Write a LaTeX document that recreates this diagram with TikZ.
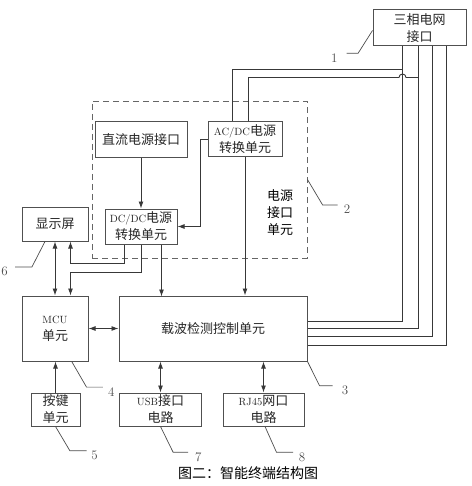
\documentclass[tikz,border=0pt]{standalone}
\usepackage{fontspec}
\usepackage{tikz}
\usetikzlibrary{arrows.meta,calc,positioning}
\newfontfamily\cjkfont{Noto Sans CJK SC}
\definecolor{boxgray}{HTML}{505050}
\definecolor{wiregray}{HTML}{383838}
\newcommand{\lat}{\fontsize{10.5}{17}\rmfamily}

\begin{document}
\begin{tikzpicture}[
  x=1pt, y=-1pt,
  blk/.style    = {draw=boxgray, line width=1pt, align=center,
                   font=\cjkfont\fontsize{13}{17}\selectfont,
                   inner sep=1pt, text=black!85},
  wire/.style   = {line width=0.9pt, draw=wiregray},
  arr/.style    = {wire, -{Latex[length=7pt,width=5pt]}},
  dbl/.style    = {wire, {Latex[length=7pt,width=5pt]}-{Latex[length=7pt,width=5pt]}},
  leader/.style = {line width=0.7pt, draw=black!70},
  num/.style    = {font=\fontsize{13}{15}\selectfont, inner sep=0pt, text=black!70},
]
\useasboundingbox (0,0) rectangle (471,486);

% power supply region
\node[draw=black!60, dashed, dash pattern=on 6pt off 4pt, line width=0.9pt,
      minimum width=215pt, minimum height=157pt] (psu) at (199.5,179.5) {};
\node[font=\cjkfont\fontsize{13}{17}\selectfont, align=center, inner sep=0pt]
    (psutext) at (280,213) {电源\\接口\\单元};

% blocks
\node[blk, minimum width=93pt, minimum height=36pt] (grid) at (419.5,28) {三相电网\\接口};
\node[blk, minimum width=74pt, minimum height=35pt] (acdc) at (245,139.5) {{\lat AC/DC}电源\\转换单元};
\node[blk, minimum width=92pt, minimum height=36pt] (dcin) at (141,140) {直流电源接口};
\node[blk, minimum width=72pt, minimum height=35pt] (dcdc) at (141,226.5) {{\lat DC/DC}电源\\转换单元};
\node[blk, minimum width=66pt, minimum height=34pt] (disp) at (55,224) {显示屏};
\node[blk, minimum width=66pt, minimum height=65pt] (mcu) at (55,328.5) {{\lat MCU}\\单元};
\node[blk, minimum width=188pt, minimum height=65pt] (carrier) at (213,328.5) {载波检测控制单元};
\node[blk, minimum width=49pt, minimum height=33pt] (key) at (55.5,409.5) {按键\\单元};
\node[blk, minimum width=82pt, minimum height=33pt] (usb) at (160.5,409.5) {{\lat USB}接口\\电路};
\node[blk, minimum width=81pt, minimum height=33pt] (rj45) at (263.5,409.5) {{\lat RJ45}网口\\电路};

% grid feeds
\draw[wire] ($(grid.south west)+(30,23)$) -| ($(acdc.north west)+(25,0)$);
\draw[wire] ($(grid.south west)+(46,31)$) -- ++(-12.5,0)
    arc[start angle=0, end angle=180, x radius=3.5pt, y radius=3.5pt]
    -| ($(acdc.north west)+(41,0)$);
\draw[wire] ($(grid.south west)+(30,0)$) |- ($(carrier.east)+(0,-7.5)$);
\draw[wire] ($(grid.south west)+(46,0)$) |- (carrier.east);
\draw[wire] ($(grid.south west)+(60,0)$) |- ($(carrier.east)+(0,8)$);
\draw[wire] ($(grid.south west)+(74,0)$) |- ($(carrier.east)+(0,16.5)$);

% supply arrows
\draw[arr] (dcin) -- (dcdc);
\draw[arr] (acdc.west) -- ++(-7,0) |- (dcdc.east);
\draw[arr] (acdc.south) -- (acdc.south |- carrier.north);
\draw[arr] ($(dcdc.south west)+(20,0)$) -- ++(0,19) -| ($(disp.south west)+(49,0)$);
\draw[arr] ($(dcdc.south west)+(37,0)$) -- ++(0,28) -| ($(mcu.north west)+(49,0)$);
\draw[arr] ($(dcdc.south west)+(57,0)$) -- ++(0,52);

% data links
\draw[dbl] (disp) -- (mcu);
\draw[dbl] (mcu) -- (carrier);
\draw[arr] (key.north) -- (key.north |- mcu.south);
\draw[dbl] (usb.north) -- (usb.north |- carrier.south);
\draw[dbl] (rj45.north) -- (rj45.north |- carrier.south);

% reference numbers
\node[num] (n1) at (334.2,57.8) {1};
\node[num] (n2) at (347,209.5) {2};
\node[num] (n3) at (345,390.5) {3};
\node[num] (n4) at (111.2,391.7) {4};
\node[num] (n5) at (94.5,455.3) {5};
\node[num] (n6) at (4.5,271.7) {6};
\node[num] (n7) at (198.3,457) {7};
\node[num] (n8) at (302,457) {8};
\draw[leader] ($(n1.north east)+(9,0)$) -- ++(11.5,0) -- ($(grid.south west)+(0,-16)$);
\draw[leader] ($(n2.north west)+(-6,0)$) -- ++(-15,0) -- (psu.east);
\draw[leader] ($(n3.north west)+(-9,0)$) -- ++(-13,0) -- (carrier.south east);
\draw[leader] ($(n4.north west)+(-5,0)$) -- ++(-16.3,0) -- ($(mcu.south)+(16.7,0)$);
\draw[leader] ($(n5.north west)+(-4.6,0)$) -- ++(-16.7,0) -- (key.south);
\draw[leader] ($(n6.north east)+(7.3,0)$) -- ++(16.7,0) -- ($(disp.south)+(-10,0)$);
\draw[leader] ($(n7.north west)+(-6.8,0)$) -- ++(-15,0) -- (usb.south);
\draw[leader] ($(n8.north west)+(-5.5,0)$) -- ++(-16.6,0) -- ($(rj45.south)+(1.5,0)$);

\node[font=\cjkfont\fontsize{14}{16}\selectfont] (caption) at (248,473) {图二：智能终端结构图};
\end{tikzpicture}
\end{document}
